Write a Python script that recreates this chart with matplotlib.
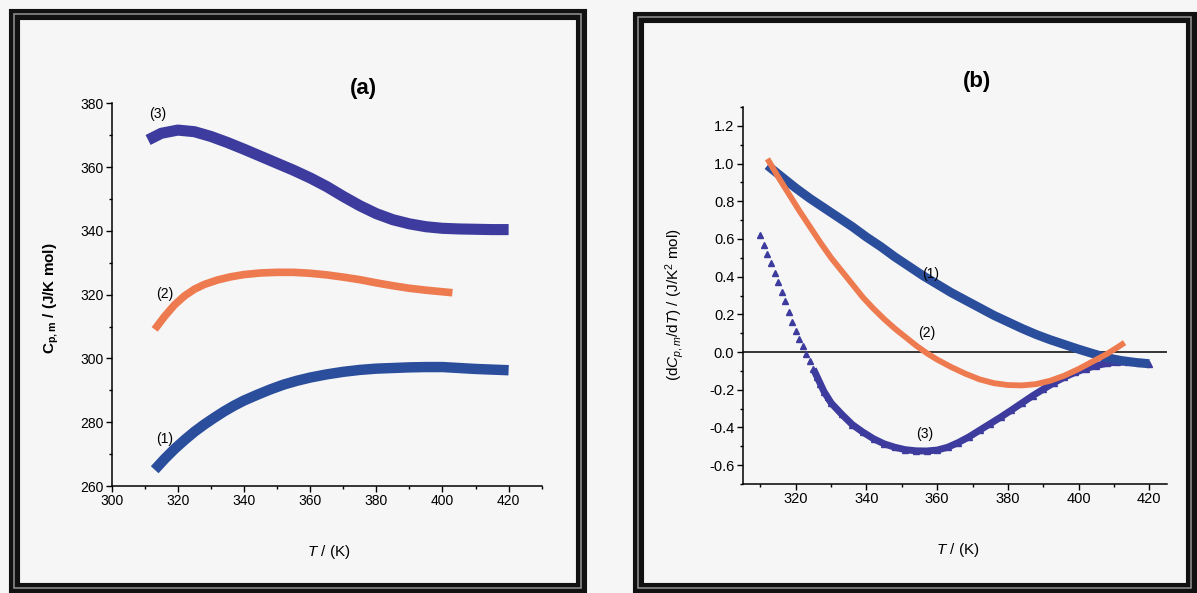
import numpy as np
import matplotlib
matplotlib.use("Agg")
import matplotlib.pyplot as plt
import matplotlib.patches as mpatches
from matplotlib.ticker import MultipleLocator

plt.rcParams["font.family"] = ["Liberation Sans", "DejaVu Sans"]
plt.rcParams["mathtext.fontset"] = "custom"
plt.rcParams["mathtext.rm"] = "Liberation Sans"
plt.rcParams["mathtext.it"] = "Liberation Sans:italic"
plt.rcParams["mathtext.bf"] = "Liberation Sans:bold"

# Panel (a): heat capacity curves
T1a = [313, 316, 319, 322, 325, 328, 331, 334, 337, 340, 344, 348, 352, 356,
       360, 365, 370, 375, 380, 385, 390, 395, 400, 405, 410, 415, 420]
C1a = [265.1, 268.5, 271.6, 274.4, 277.0, 279.3, 281.4, 283.4, 285.2, 286.8,
       288.6, 290.3, 291.8, 293.0, 294.0, 295.0, 295.8, 296.4, 296.8, 297.0,
       297.2, 297.3, 297.3, 297.0, 296.7, 296.5, 296.3]
T2a = [313, 316, 319, 322, 325, 328, 332, 336, 340, 345, 350, 355, 360, 365,
       370, 375, 380, 385, 390, 395, 400, 403]
C2a = [309.1, 313.2, 316.8, 319.6, 321.7, 323.2, 324.6, 325.6, 326.3, 326.8,
       327.0, 327.0, 326.7, 326.2, 325.5, 324.7, 323.7, 322.8, 322.0, 321.4,
       320.9, 320.6]
T3a = [311, 315, 320, 325, 330, 335, 340, 345, 350, 355, 360, 365, 370, 375,
       380, 385, 390, 395, 400, 405, 410, 415, 420]
C3a = [368.5, 370.6, 371.6, 371.1, 369.6, 367.7, 365.6, 363.4, 361.2, 359.0,
       356.6, 353.9, 350.8, 347.9, 345.4, 343.5, 342.2, 341.3, 340.8, 340.6,
       340.5, 340.4, 340.4]

# Panel (b): temperature derivatives
T1b = [312, 316, 320, 324, 328, 332, 336, 340, 344, 348, 352, 356, 360, 364,
       368, 372, 376, 380, 384, 388, 392, 396, 400, 404, 408, 412, 416, 420]
D1b = [0.99, 0.93, 0.87, 0.815, 0.765, 0.715, 0.665, 0.61, 0.56, 0.505, 0.455,
       0.405, 0.36, 0.315, 0.275, 0.235, 0.195, 0.16, 0.125, 0.093, 0.065,
       0.04, 0.015, -0.008, -0.03, -0.045, -0.055, -0.062]
T2b = [312, 315, 318, 321, 324, 327, 330, 333, 336, 339, 342, 345, 348, 351,
       354, 357, 360, 364, 368, 372, 376, 380, 384, 388, 392, 396, 400, 404,
       408, 411, 413]
D2b = [1.025, 0.93, 0.84, 0.75, 0.665, 0.58, 0.50, 0.43, 0.36, 0.29, 0.23,
       0.175, 0.125, 0.08, 0.035, -0.005, -0.04, -0.08, -0.115, -0.145,
       -0.165, -0.175, -0.177, -0.17, -0.152, -0.125, -0.09, -0.05, -0.01,
       0.025, 0.05]
T3b = [310, 311, 312, 313, 314, 315, 316, 317, 318, 319, 320, 321, 322, 323,
       324, 325, 326, 327, 328, 329, 330, 333, 336, 339, 342, 345, 348, 351,
       354, 357, 360, 363, 366, 369, 372, 375, 378, 381, 384, 387, 390, 393,
       396, 399, 402, 405, 408, 411, 414, 417, 420]
D3b = [0.62, 0.57, 0.52, 0.47, 0.42, 0.37, 0.32, 0.27, 0.21, 0.16, 0.11, 0.07,
       0.03, -0.01, -0.05, -0.09, -0.13, -0.17, -0.21, -0.24, -0.27, -0.33,
       -0.385, -0.425, -0.46, -0.487, -0.505, -0.518, -0.524, -0.525, -0.52,
       -0.505, -0.48, -0.45, -0.415, -0.38, -0.345, -0.308, -0.27, -0.232,
       -0.197, -0.163, -0.133, -0.108, -0.088, -0.072, -0.06, -0.053, -0.054,
       -0.059, -0.065]

blue = "#2a4d9c"
purple = "#3d3c9e"
orange = "#ee7a4f"

fig = plt.figure(figsize=(11.97, 5.93), dpi=100, facecolor="#f6f6f6")
W, H = 1197.0, 593.0

# double frames around the panels
for x0, y0, x1, y1 in [(14, 14, 581, 588), (638, 17, 1191, 588)]:
    box = dict(xy=(x0 / W, 1 - y1 / H), width=(x1 - x0) / W, height=(y1 - y0) / H,
               transform=fig.transFigure, fill=False)
    fig.patches.append(mpatches.Rectangle(ec="#111111", lw=8, **box))
    fig.patches.append(mpatches.Rectangle(ec="#8a8a8a", lw=1.2, **box))


def style(ax, size):
    ax.set_facecolor("none")
    for s in ["top", "right"]:
        ax.spines[s].set_visible(False)
    for s in ["left", "bottom"]:
        ax.spines[s].set_linewidth(1.1)
    ax.tick_params(which="major", direction="out", length=4, width=1.0,
                   labelsize=size, pad=2)
    ax.tick_params(which="minor", direction="out", length=2.5, width=1.0)


line_kw = dict(solid_capstyle="butt", solid_joinstyle="round")

# panel (a)
ax1 = fig.add_axes([111.7 / W, 1 - 486 / H, 430 / W, 382.7 / H])
style(ax1, 10)
ax1.plot(T3a, C3a, color=purple, lw=8, **line_kw)
ax1.plot(T2a, C2a, color=orange, lw=5.5, **line_kw)
ax1.plot(T1a, C1a, color=blue, lw=7.5, **line_kw)
ax1.set_xlim(300, 430)
ax1.set_ylim(260, 380)
ax1.set_xticks(range(300, 421, 20))
ax1.xaxis.set_minor_locator(MultipleLocator(10))
ax1.yaxis.set_major_locator(MultipleLocator(20))
ax1.yaxis.set_minor_locator(MultipleLocator(10))
ax1.set_ylabel(r"$\mathbf{C}_{\mathbf{p,m}}$ / (J/K mol)", fontsize=11,
               fontweight="bold")
ax1.yaxis.set_label_coords(-0.118, 0.49)
ax1.set_xlabel(r"$T$ / (K)", fontsize=11)
ax1.xaxis.set_label_coords(0.505, -0.149)
ax1.text(313.8, 376.5, "(3)", fontsize=10, ha="center", va="center")
ax1.text(315.9, 320.3, "(2)", fontsize=10, ha="center", va="center")
ax1.text(315.9, 274.8, "(1)", fontsize=10, ha="center", va="center")
fig.text(363.6 / W, 1 - 88 / H, "(a)", fontsize=16, fontweight="bold",
         ha="center", va="center")

# panel (b)
ax2 = fig.add_axes([742.7 / W, 1 - 484 / H, 424.3 / W, 377 / H])
style(ax2, 10.5)
ax2.axhline(0, color="black", lw=1.1, zorder=1)
ax2.plot(T1b, D1b, color=blue, lw=6.5, zorder=3, **line_kw)
ax2.plot(T2b, D2b, color=orange, lw=4.2, zorder=4, **line_kw)
ax2.plot(T3b[15:], D3b[15:], color=purple, lw=5, zorder=2, **line_kw)
ax2.plot(T3b, D3b, ls="none", marker="^", ms=5, color=purple, zorder=2)
ax2.set_xlim(305, 425)
ax2.set_ylim(-0.7, 1.3)
ax2.set_xticks(range(320, 421, 20))
ax2.xaxis.set_minor_locator(MultipleLocator(10))
ax2.set_yticks(np.round(np.arange(-0.6, 1.21, 0.2), 1))
ax2.yaxis.set_minor_locator(MultipleLocator(0.1))
ax2.yaxis.set_major_formatter(plt.FuncFormatter(lambda v, p: f"{v:.1f}"))
ax2.set_ylabel(r"(d$C_{p,m}$/d$T$) / (J/K$^2$ mol)", fontsize=11)
ax2.yaxis.set_label_coords(-0.134, 0.475)
ax2.set_xlabel(r"$T$ / (K)", fontsize=11)
ax2.xaxis.set_label_coords(0.507, -0.151)
ax2.text(358.1, 0.413, "(1)", fontsize=10, ha="center", va="center")
ax2.text(357.0, 0.10, "(2)", fontsize=10, ha="center", va="center")
ax2.text(356.4, -0.433, "(3)", fontsize=10, ha="center", va="center")
fig.text(977 / W, 1 - 82 / H, "(b)", fontsize=16, fontweight="bold",
         ha="center", va="center")

fig.savefig("out.png", dpi=100, facecolor=fig.get_facecolor())
